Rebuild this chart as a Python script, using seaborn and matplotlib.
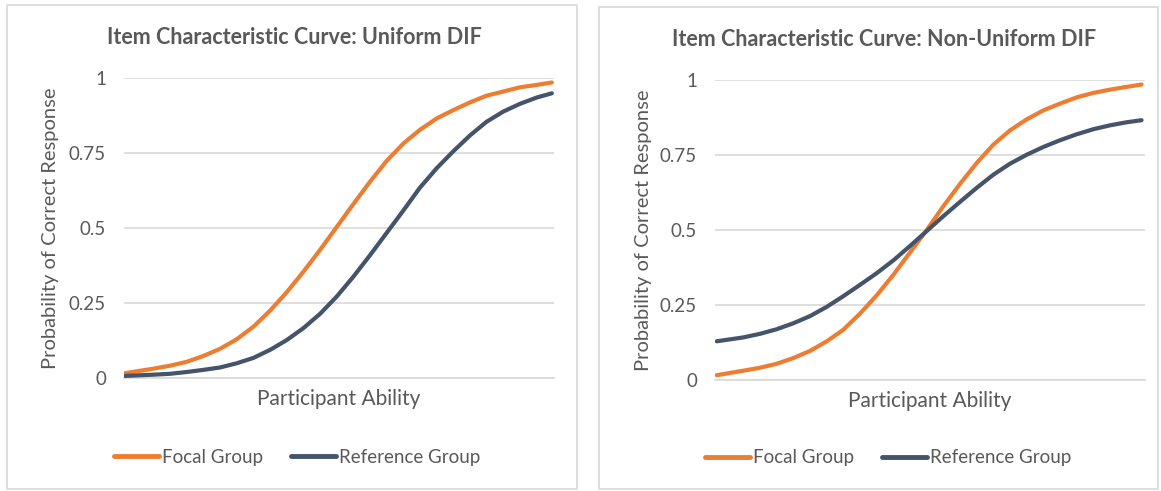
import matplotlib
matplotlib.use("Agg")
import matplotlib.pyplot as plt
import seaborn as sns
import pandas as pd
from matplotlib.patches import Rectangle
from matplotlib.lines import Line2D

# ---- data ----
left_x = [0.2, 6.8, 10.7, 14.6, 18.4, 22.3, 26.2, 30.1, 34.0, 37.8, 41.7, 45.6, 49.5,
          53.3, 57.2, 61.1, 65.0, 68.8, 72.7, 76.6, 80.5, 84.3, 88.2, 92.1, 96.0, 99.5]
left_focal = [0.017, 0.032, 0.042, 0.055, 0.074, 0.098, 0.130, 0.172, 0.226, 0.286, 0.355, 0.428, 0.505,
              0.580, 0.655, 0.725, 0.783, 0.828, 0.866, 0.894, 0.920, 0.942, 0.956, 0.970, 0.978, 0.986]
left_reference = [0.008, 0.012, 0.015, 0.021, 0.028, 0.036, 0.050, 0.068, 0.095, 0.127, 0.167, 0.215, 0.273,
                  0.338, 0.410, 0.485, 0.560, 0.635, 0.700, 0.757, 0.810, 0.855, 0.889, 0.915, 0.936, 0.950]

right_x = [0.4, 6.6, 10.5, 14.3, 18.2, 22.1, 26.0, 29.8, 33.7, 37.6, 41.5, 45.3, 49.2,
           53.1, 57.0, 60.9, 64.7, 68.6, 72.5, 76.4, 80.2, 84.1, 88.0, 91.9, 95.7, 99.2]
right_focal = [0.017, 0.032, 0.042, 0.055, 0.074, 0.098, 0.130, 0.168, 0.222, 0.283, 0.352, 0.425, 0.500,
               0.580, 0.655, 0.725, 0.785, 0.833, 0.870, 0.900, 0.922, 0.943, 0.958, 0.969, 0.978, 0.986]
right_reference = [0.130, 0.143, 0.155, 0.170, 0.190, 0.214, 0.245, 0.280, 0.318, 0.357, 0.400, 0.447, 0.497,
                   0.547, 0.595, 0.642, 0.685, 0.722, 0.752, 0.778, 0.800, 0.820, 0.837, 0.850, 0.860, 0.867]

titles = ["Item Characteristic Curve: Uniform DIF",
          "Item Characteristic Curve: Non-Uniform DIF"]
groups = ["Focal Group", "Reference Group"]
y_ticks = [0, 0.25, 0.5, 0.75, 1]
y_tick_labels = ["0", "0.25", "0.5", "0.75", "1"]
x_label = "Participant Ability"
y_label = "Probability of Correct Response"

# ---- style ----
sns.set_theme(style="white")
plt.rcParams['font.family'] = ['Lato', 'DejaVu Sans']
plt.rcParams['lines.solid_joinstyle'] = 'round'
plt.rcParams['lines.solid_capstyle'] = 'round'
text_col = "#595959"
grid_col = "#D9D9D9"
palette = {"Focal Group": "#ED7D31", "Reference Group": "#44546A"}

fig = plt.figure(figsize=(11.61, 4.91), dpi=100)

# panel borders
fig.patches.append(Rectangle((7/1161, 1-489/491), (577-7)/1161, (489-5)/491,
                             transform=fig.transFigure, fill=False,
                             edgecolor=grid_col, linewidth=1.2))
fig.patches.append(Rectangle((599/1161, 1-489/491), (1158-599)/1161, (489-7)/491,
                             transform=fig.transFigure, fill=False,
                             edgecolor=grid_col, linewidth=1.2))

panels = [
    dict(x=left_x, f=left_focal, r=left_reference,
         rect=[124/1161, 1-378.3/491, (554-124)/1161, 300/491],
         title_x=294/1161, title_y=1-38/491, leg_x=297/1161, leg_y=1-457/491, ylab_x=51/1161),
    dict(x=right_x, f=right_focal, r=right_reference,
         rect=[715/1161, 1-380.3/491, (1145-715)/1161, 300/491],
         title_x=884/1161, title_y=1-40/491, leg_x=888/1161, leg_y=1-458/491, ylab_x=643/1161),
]

for i, p in enumerate(panels):
    ax = fig.add_axes(p["rect"])
    df = pd.DataFrame({
        "ability": list(p["x"]) * 2,
        "prob": list(p["f"]) + list(p["r"]),
        "group": [groups[0]] * len(p["x"]) + [groups[1]] * len(p["x"]),
    })
    sns.lineplot(data=df, x="ability", y="prob", hue="group", palette=palette,
                 linewidth=3.0, ax=ax, legend=False, zorder=3)
    ax.set_xlim(0, 100)
    ax.set_ylim(0, 1)
    ax.set_yticks(y_ticks)
    ax.set_yticklabels(y_tick_labels)
    ax.set_xticks([])
    ax.tick_params(axis='y', length=0, pad=13, labelsize=13.5, labelcolor=text_col)
    ax.yaxis.grid(True, color=grid_col, linewidth=1.2)
    ax.set_axisbelow(True)
    for s in ["top", "right", "left"]:
        ax.spines[s].set_visible(False)
    ax.spines["bottom"].set_color(grid_col)
    ax.spines["bottom"].set_linewidth(1.2)
    ax.set_xlabel(x_label, fontsize=15, color=text_col, labelpad=8)
    ax.set_ylabel("")
    fig.text(p["ylab_x"], p["rect"][1] + p["rect"][3] / 2, y_label, rotation=90,
             ha="center", va="center", fontsize=14.5, color=text_col)
    fig.text(p["title_x"], p["title_y"], titles[i], ha="center", va="center",
             fontsize=15.5, fontweight="bold", color=text_col)
    handles = [Line2D([0], [0], color=palette[g], linewidth=3.5) for g in groups]
    fig.legend(handles, groups, loc="center", bbox_to_anchor=(p["leg_x"], p["leg_y"]),
               ncol=2, frameon=False, fontsize=13.5, labelcolor=text_col,
               handlelength=2.4, handletextpad=0.15, columnspacing=1.5)

fig.savefig("out.png", dpi=100)
